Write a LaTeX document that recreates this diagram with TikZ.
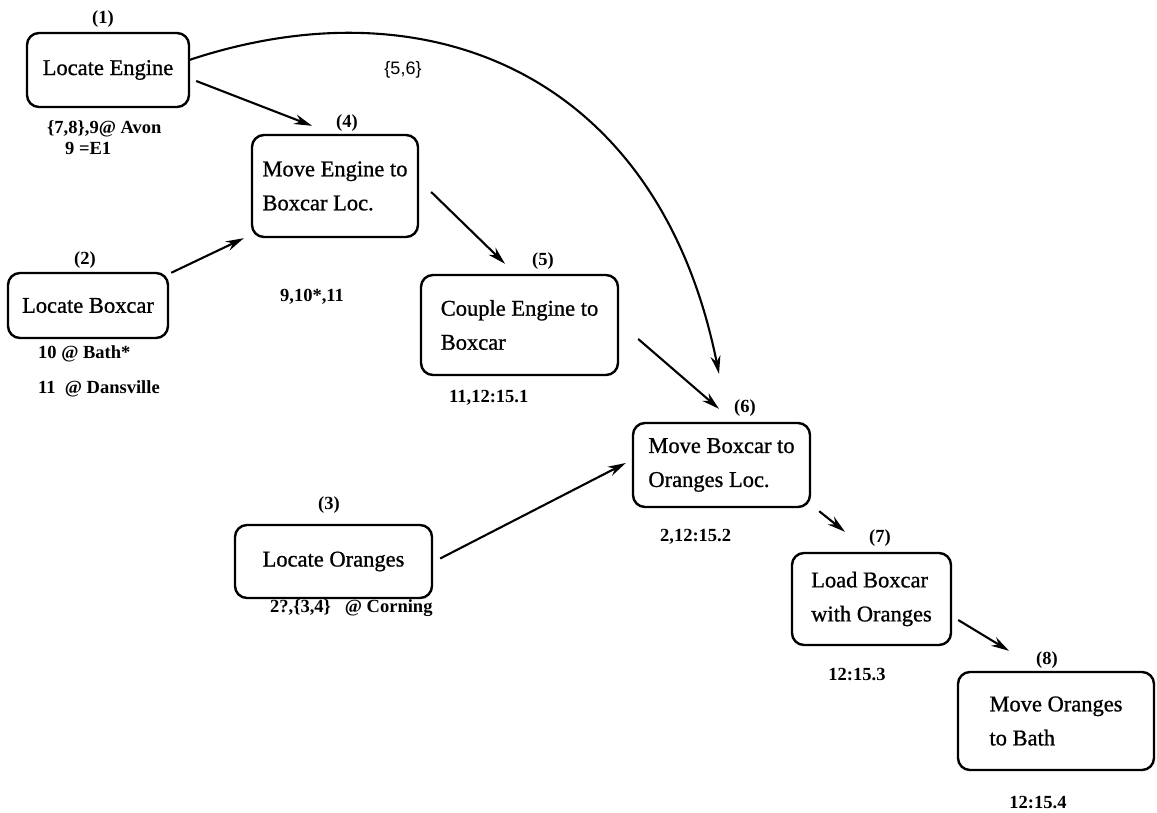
\documentclass[tikz,border=0pt]{standalone}
\usepackage{fontspec}
\setmainfont{Liberation Serif}
\newfontfamily\stepfont{Liberation Serif}[FakeBold=0.9]
\newfontfamily\labelsans{Liberation Sans}
\usetikzlibrary{arrows.meta,calc}

\begin{document}
\begin{tikzpicture}[x=1pt,y=-1pt,
  box/.style={draw,line width=2.4pt,rounded corners=12pt,inner sep=0pt,
    align=left,font=\stepfont\fontsize{22.5}{34}\selectfont},
  tag/.style={font=\bfseries\fontsize{18.5}{22}\selectfont,inner sep=0pt},
  arr/.style={line width=2.1pt,-{Stealth[length=18pt,width=10pt]}}]

\useasboundingbox (0,0) rectangle (1157,813);
\fill[white] (0,0) rectangle (1157,813);

% plan steps
\node[box,minimum width=162pt,minimum height=74pt] (n1) at (108,70) {Locate Engine};
\node[box,minimum width=160pt,minimum height=65pt] (n2) at (88,305.5) {Locate Boxcar};
\node[box,minimum width=197pt,minimum height=73pt] (n3) at (333.5,561.5) {Locate Oranges};
\node[box,minimum width=166pt,minimum height=102pt] (n4) at (335,186) {Move Engine to\\Boxcar Loc.};
\node[box,minimum width=197pt,minimum height=100pt] (n5) at (519.5,325) {Couple Engine to\\Boxcar};
\node[box,minimum width=177pt,minimum height=84pt] (n6) at (721.5,465) {Move Boxcar to\\Oranges Loc.};
\node[box,minimum width=159pt,minimum height=92pt] (n7) at (871.5,599) {Load Boxcar\\with Oranges};
\node[box,minimum width=196pt,minimum height=98pt] (n8) at (1056,721) {Move Oranges\\to Bath};

% step numbers
\node[tag] (k1) at (103,19) {(1)};
\node[tag] (k2) at (85,260) {(2)};
\node[tag] (k3) at (329,505) {(3)};
\node[tag] (k4) at (347,123) {(4)};
\node[tag] (k5) at (543,261) {(5)};
\node[tag] (k6) at (745,408) {(6)};
\node[tag] (k7) at (880,538) {(7)};
\node[tag] (k8) at (1047,660) {(8)};

% annotations
\node[tag,anchor=west] (a1) at (47,129) {\{7,8\},9@ Avon};
\node[tag,anchor=west] (a1b) at (65,148) {9 =E1};
\node[tag,anchor=west] (a2) at (38,354) {10 @ Bath*};
\node[tag,anchor=west] (a2b) at (38,389) {11 ~@ Dansville};
\node[tag] (a4) at (312,297) {9,10*,11};
\node[tag,anchor=west] (a5) at (449,398) {11,12:15.1};
\node[tag,anchor=west] (a6) at (660,537) {2,12:15.2};
\node[tag,anchor=west] (a3) at (270,608) {2?,\{3,4\} ~~@ Corning};
\node[tag] (a7) at (857,675) {12:15.3};
\node[tag] (a8) at (1038,803) {12:15.4};
\node[font=\labelsans\fontsize{18}{20}\selectfont,inner sep=0pt] (c56) at (403,70) {\{5,6\}};

% ordering links
\draw[arr] ([shift={(6,11)}]n1.east) -- ([shift={(-23,-8)}]n4.north);
\draw[arr] ([shift={(2,1)}]n2.north east) -- ([shift={(-7,0)}]n4.south west);
\draw[arr] ([shift={(12,6)}]n4.east) -- ([shift={(-14.5,-10)}]n5.north);
\draw[arr] ([shift={(19,14)}]n5.east) -- ([shift={(-2.5,-13)}]n6.north);
\draw[arr] ([shift={(-1,-10)}]n1.east) .. controls (430,-20) and (659,75) .. ([shift={(-2.5,-48)}]n6.north);
\draw[arr] ([shift={(7,-3)}]n3.east) -- ([shift={(-6,-2)}]n6.west);
\draw[arr] ([shift={(8,3)}]n6.south east) -- ([shift={(-26.5,-20)}]n7.north);
\draw[arr] ([shift={(6,21)}]n7.east) -- ([shift={(-47,-20)}]n8.north);
\end{tikzpicture}
\end{document}
